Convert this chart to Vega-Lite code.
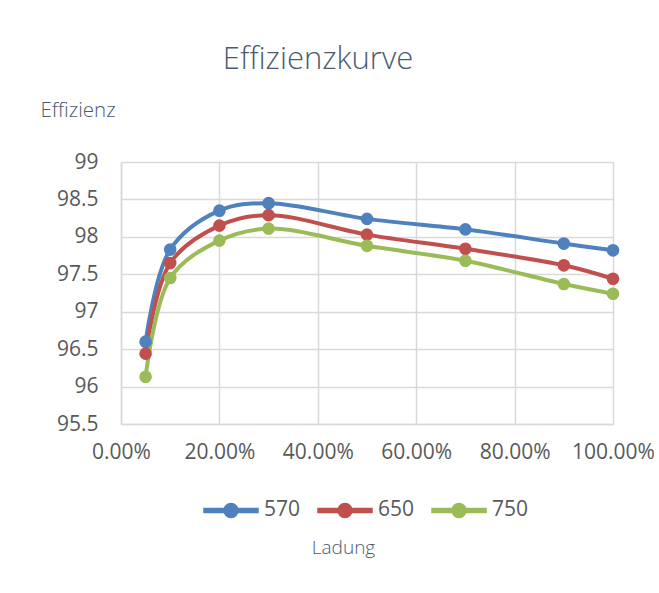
{
  "$schema": "https://vega.github.io/schema/vega-lite/v6.json",
  "width": 492,
  "height": 262,
  "autosize": {"type": "none"},
  "padding": {"left": 121, "top": 162, "right": 46, "bottom": 169},
  "background": "white",
  "title": {
    "text": "Effizienzkurve",
    "anchor": "middle",
    "frame": "group",
    "dx": -49,
    "offset": 0,
    "baseline": "alphabetic",
    "font": "Open Sans",
    "fontSize": 31,
    "fontWeight": 300,
    "color": "#4A5B70"
  },
  "data": {
    "values": [
      {"load": 0.05, "eff": 96.60, "series": "570"},
      {"load": 0.10, "eff": 97.83, "series": "570"},
      {"load": 0.20, "eff": 98.35, "series": "570"},
      {"load": 0.30, "eff": 98.45, "series": "570"},
      {"load": 0.50, "eff": 98.24, "series": "570"},
      {"load": 0.70, "eff": 98.10, "series": "570"},
      {"load": 0.90, "eff": 97.91, "series": "570"},
      {"load": 1.00, "eff": 97.82, "series": "570"},
      {"load": 0.05, "eff": 96.44, "series": "650"},
      {"load": 0.10, "eff": 97.65, "series": "650"},
      {"load": 0.20, "eff": 98.15, "series": "650"},
      {"load": 0.30, "eff": 98.29, "series": "650"},
      {"load": 0.50, "eff": 98.03, "series": "650"},
      {"load": 0.70, "eff": 97.84, "series": "650"},
      {"load": 0.90, "eff": 97.62, "series": "650"},
      {"load": 1.00, "eff": 97.44, "series": "650"},
      {"load": 0.05, "eff": 96.13, "series": "750"},
      {"load": 0.10, "eff": 97.45, "series": "750"},
      {"load": 0.20, "eff": 97.95, "series": "750"},
      {"load": 0.30, "eff": 98.11, "series": "750"},
      {"load": 0.50, "eff": 97.88, "series": "750"},
      {"load": 0.70, "eff": 97.68, "series": "750"},
      {"load": 0.90, "eff": 97.37, "series": "750"},
      {"load": 1.00, "eff": 97.24, "series": "750"}
    ]
  },
  "mark": {
    "type": "line",
    "interpolate": "catmull-rom",
    "strokeWidth": 4,
    "point": {"filled": true, "size": 160, "opacity": 1}
  },
  "encoding": {
    "x": {
      "field": "load",
      "type": "quantitative",
      "scale": {"domain": [0, 1], "nice": false},
      "axis": {
        "values": [0, 0.2, 0.4, 0.6, 0.8, 1.0],
        "format": ".2%",
        "labelOverlap": false,
        "labelFlush": false,
        "labelBound": false,
        "title": "Ladung",
        "titleX": 222,
        "titleY": 123,
        "titleAlign": "center",
        "titleBaseline": "middle",
        "labelPadding": 17
      }
    },
    "y": {
      "field": "eff",
      "type": "quantitative",
      "scale": {"domain": [95.5, 99], "nice": false, "zero": false},
      "axis": {
        "values": [95.5, 96, 96.5, 97, 97.5, 98, 98.5, 99],
        "format": "~f",
        "labelOverlap": false,
        "labelFlush": false,
        "title": "Effizienz",
        "titleAngle": 0,
        "titleX": -81,
        "titleY": -52,
        "titleAlign": "left",
        "titleBaseline": "middle",
        "titleFontSize": 20.5,
        "labelPadding": 23
      }
    },
    "color": {
      "field": "series",
      "type": "nominal",
      "scale": {"domain": ["570", "650", "750"], "range": ["#4F81BD", "#C0504D", "#9BBB59"]},
      "legend": {
        "title": null,
        "orient": "none",
        "direction": "horizontal",
        "legendX": 82,
        "legendY": 320,
        "padding": 0,
        "symbolType": "M-1,-0.074L1,-0.074L1,0.074L-1,0.074Z M0.26,0A0.26,0.26,0,1,1,-0.26,0A0.26,0.26,0,1,1,0.26,0Z",
        "symbolSize": 2916,
        "labelOffset": 5,
        "columnPadding": 14,
        "labelFont": "Open Sans",
        "labelFontSize": 21,
        "labelColor": "#595959",
        "encode": {
          "symbols": {
            "update": {
              "fill": {"scale": "color", "field": "value"},
              "stroke": {"value": "transparent"},
              "opacity": {"value": 1},
              "fillOpacity": {"value": 1}
            }
          }
        }
      }
    }
  },
  "config": {
    "view": {"stroke": null},
    "axis": {
      "domainColor": "#D9D9D9",
      "domainWidth": 1.5,
      "gridColor": "#D9D9D9",
      "gridWidth": 1.5,
      "ticks": false,
      "labelFont": "Open Sans",
      "labelFontSize": 21,
      "labelColor": "#595959",
      "titleFont": "Open Sans",
      "titleFontSize": 19,
      "titleFontWeight": 300,
      "titleColor": "#4A5B70"
    }
  }
}
